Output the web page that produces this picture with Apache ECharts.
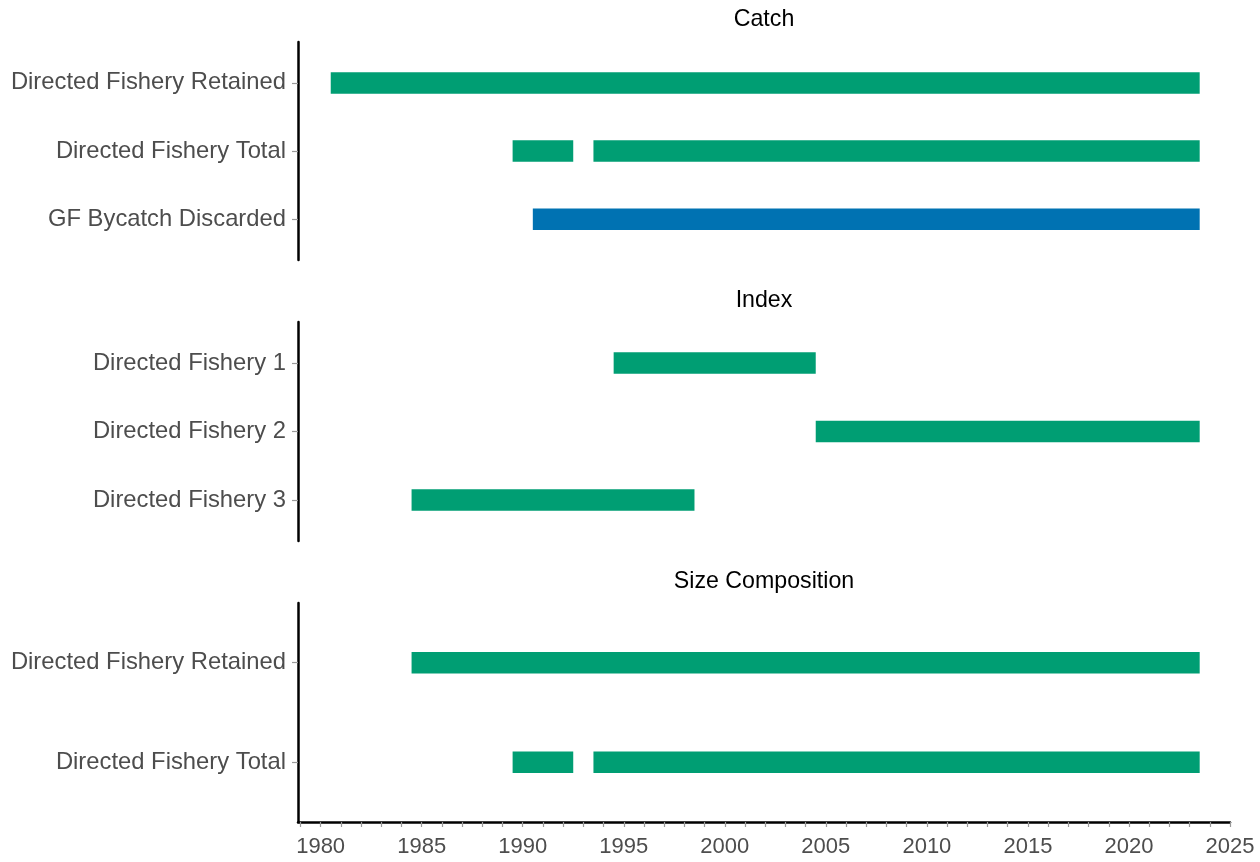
<!DOCTYPE html>
<html>
<head>
<meta charset="utf-8">
<script src="https://cdn.jsdelivr.net/npm/echarts@6/dist/echarts.min.js"></script>
<style>
html, body { margin: 0; padding: 0; background: #fff; }
#chart { width: 1260px; height: 862px; }
</style>
</head>
<body>
<div id="chart"></div>
<script>
// panel titles
var panelTitles = ['Catch', 'Index', 'Size Composition'];

// categories, top to bottom
var catchCats = ['Directed Fishery Retained', 'Directed Fishery Total', 'GF Bycatch Discarded'];
var indexCats = ['Directed Fishery 1', 'Directed Fishery 2', 'Directed Fishery 3'];
var sizeCats = ['Directed Fishery Retained', 'Directed Fishery Total'];

// year ranges [first, last] with data
var catchRetained = [[1981, 2023]];
var catchTotal = [[1990, 1992], [1994, 2023]];
var gfBycatch = [[1991, 2023]];
var indexFishery1 = [[1995, 2004]];
var indexFishery2 = [[2005, 2023]];
var indexFishery3 = [[1985, 1998]];
var sizeRetained = [[1985, 2023]];
var sizeTotal = [[1990, 1992], [1994, 2023]];

// x axis tick labels
var yearLabels = [1980, 1985, 1990, 1995, 2000, 2005, 2010, 2015, 2020, 2025];
var yearTicks = [];
for (var t = 1979; t <= 2025; t++) yearTicks.push(t);

var GREEN = '#009E73';
var BLUE = '#0072B2';
var FONT = '"Liberation Sans", Arial, sans-serif';
var X_MIN = 1978.88;
var X_MAX = 2025;

// one bar per range: [first, last, row]
function rangeBars(ranges, row) {
	return ranges.map(function(r) { return [r[0], r[1], row]; });
}

function renderBar(params, api) {
	var p0 = api.coord([api.value(0) - 0.5, api.value(2)]);
	var p1 = api.coord([api.value(1) + 0.5, api.value(2)]);
	var h = 21.5;
	return {
		type: 'rect',
		shape: { x: p0[0], y: p0[1] - h / 2, width: p1[0] - p0[0], height: h },
		style: { fill: api.visual('color') }
	};
}

function barSeries(ranges, row, gridIdx, color) {
	return {
		type: 'custom',
		xAxisIndex: gridIdx,
		yAxisIndex: gridIdx,
		renderItem: renderBar,
		itemStyle: { color: color },
		encode: { x: [0, 1], y: 2 },
		data: rangeBars(ranges, row),
		silent: true
	};
}

var grids = [
	{ left: 298, right: 30, top: 42, height: 218 },
	{ left: 298, right: 30, top: 322, height: 219 },
	{ left: 298, right: 30, top: 603, height: 219 }
];

function makeYAxis(idx, cats) {
	var n = cats.length;
	var vals = [];
	for (var i = 0; i < n; i++) vals.push(i + 1);
	return {
		type: 'value',
		gridIndex: idx,
		inverse: true,
		min: 0.4,
		max: n + 0.6,
		splitLine: { show: false },
		axisLine: { show: true, lineStyle: { color: '#000', width: 2.5 } },
		axisTick: { show: true, customValues: vals, length: 6, lineStyle: { color: '#999', width: 1.2 } },
		axisLabel: {
			customValues: vals,
			margin: 12,
			fontSize: 23.8,
			color: '#4d4d4d',
			fontFamily: FONT,
			formatter: function(v) { return cats[Math.round(v) - 1] || ''; }
		}
	};
}

function makeXAxis(idx, showAxis) {
	return {
		type: 'value',
		gridIndex: idx,
		min: X_MIN,
		max: X_MAX,
		splitLine: { show: false },
		axisLine: { show: showAxis, onZero: false, lineStyle: { color: '#000', width: 2.5 } },
		axisTick: { show: showAxis, customValues: yearTicks, length: 5, lineStyle: { color: '#999', width: 1.2 } },
		axisLabel: {
			show: showAxis,
			customValues: yearLabels,
			margin: 14,
			fontSize: 22,
			color: '#4d4d4d',
			fontFamily: FONT,
			formatter: function(v) { return String(Math.round(v)); }
		}
	};
}

var titleTops = [8, 289, 570];

var option = {
	backgroundColor: '#fff',
	animation: false,
	title: panelTitles.map(function(txt, i) {
		return {
			text: txt,
			left: 764,
			textAlign: 'center',
			top: titleTops[i],
			padding: 0,
			textStyle: { fontSize: 23.2, fontWeight: 'normal', color: '#000', fontFamily: FONT }
		};
	}),
	grid: grids,
	xAxis: [makeXAxis(0, false), makeXAxis(1, false), makeXAxis(2, true)],
	yAxis: [makeYAxis(0, catchCats), makeYAxis(1, indexCats), makeYAxis(2, sizeCats)],
	series: [
		barSeries(catchRetained, 1, 0, GREEN),
		barSeries(catchTotal, 2, 0, GREEN),
		barSeries(gfBycatch, 3, 0, BLUE),
		barSeries(indexFishery1, 1, 1, GREEN),
		barSeries(indexFishery2, 2, 1, GREEN),
		barSeries(indexFishery3, 3, 1, GREEN),
		barSeries(sizeRetained, 1, 2, GREEN),
		barSeries(sizeTotal, 2, 2, GREEN)
	]
};

var chart = echarts.init(document.getElementById('chart'));
chart.setOption(option);
</script>
</body>
</html>
